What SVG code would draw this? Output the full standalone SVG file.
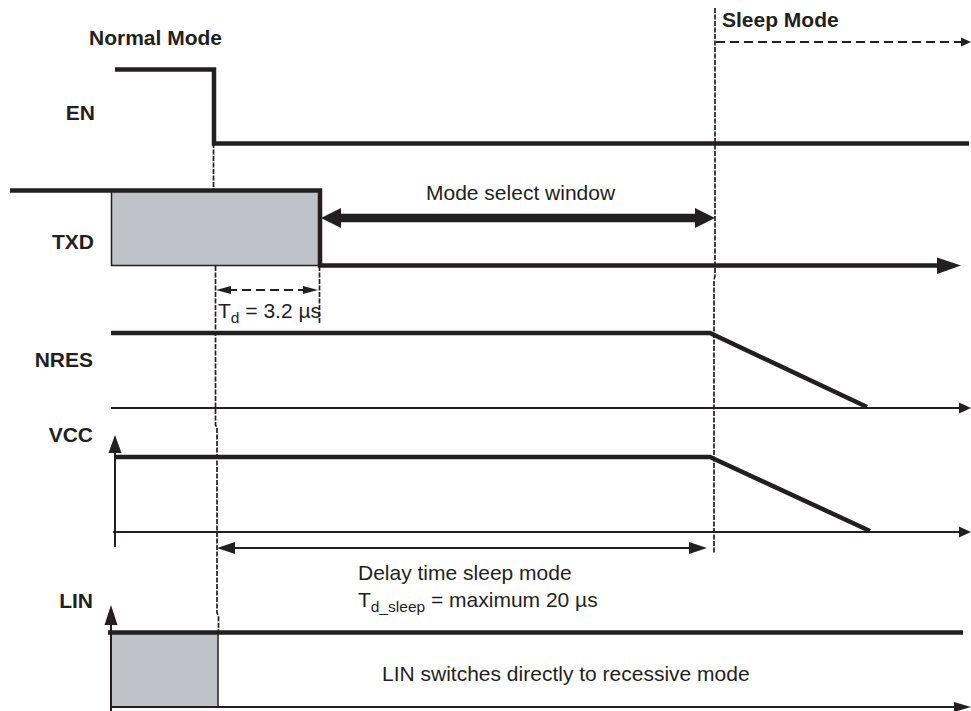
<svg xmlns="http://www.w3.org/2000/svg" width="971" height="711" viewBox="0 0 971 711">
<style>
  .bg{fill:#ffffff}
  .sig{fill:none;stroke:#231f20;stroke-width:4.5;stroke-linejoin:miter;stroke-linecap:butt}
  .thin{fill:none;stroke:#231f20;stroke-width:2}
  .head{fill:#231f20;stroke:none}
  .shade{fill:#c0c2c9;stroke:#231f20;stroke-width:1.5}
  .guide{fill:none;stroke:#231f20;stroke-width:1.7;stroke-dasharray:5 1.5}
  .dash{fill:none;stroke:#231f20;stroke-width:2;stroke-dasharray:9 5}
  .lbl{font-family:"Liberation Sans",Arial,sans-serif;font-weight:bold;font-size:21px;fill:#231f20}
  .txt{font-family:"Liberation Sans",Arial,sans-serif;font-size:21px;fill:#231f20}
  .sub{font-size:15.5px}
</style>
<rect class="bg" x="0" y="0" width="971" height="711"/>

<g id="mode-labels">
  <text class="lbl" x="89" y="45">Normal Mode</text>
  <text class="lbl" x="722" y="27">Sleep Mode</text>
</g>

<g id="guides">
  <path class="guide" d="M213.5,143 V238 L215.5,241 V425 L217,428 V613 L218.5,616 V632"/>
  <path class="guide" d="M715,8 V276 L714,280 V553"/>
  <path class="guide" d="M319.5,266 V323"/>
</g>

<g id="en">
  <text class="lbl" x="95" y="120" text-anchor="end">EN</text>
  <polyline class="sig" points="115,69.5 214,69.5 214,143.5 969,143.5"/>
</g>

<g id="txd">
  <text class="lbl" x="94" y="249" text-anchor="end">TXD</text>
  <rect class="shade" x="111.5" y="190.5" width="208.5" height="75"/>
  <polyline class="sig" points="10,190.5 320,190.5 320,265.5 940,265.5"/>
  <polygon class="head" points="937,257.5 961,265.5 937,274"/>
</g>

<g id="nres">
  <text class="lbl" x="93" y="367" text-anchor="end">NRES</text>
  <polyline class="sig" points="111,333 710,333 867,407"/>
  <line class="thin" x1="111" y1="408" x2="962" y2="408"/>
  <polygon class="head" points="959,402.5 971,408 959,413.5"/>
</g>

<g id="vcc">
  <text class="lbl" x="93" y="442" text-anchor="end">VCC</text>
  <line class="thin" x1="115" y1="547" x2="115" y2="450"/>
  <polygon class="head" points="108.5,453 115,435 121.5,453"/>
  <polyline class="sig" points="115,457 710,457 870,531"/>
  <line class="thin" x1="113" y1="532" x2="962" y2="532"/>
  <polygon class="head" points="959,526.5 971,532 959,537.5"/>
</g>

<g id="lin">
  <text class="lbl" x="93" y="608" text-anchor="end">LIN</text>
  <rect class="shade" x="111" y="632.5" width="107" height="74.5"/>
  <line class="thin" x1="111" y1="711" x2="111" y2="620"/>
  <polygon class="head" points="104.5,625 111,605 117.5,625"/>
  <line class="sig" x1="108" y1="632.5" x2="963" y2="632.5"/>
  <line class="thin" x1="111" y1="707" x2="958" y2="707"/>
  <polygon class="head" points="954,702 971,707 954,712"/>
</g>

<g id="connectors">
  <line x1="336" y1="218" x2="700" y2="218" stroke="#231f20" stroke-width="8.5"/>
  <polygon class="head" points="321,218 341,208 341,228"/>
  <polygon class="head" points="715,218 695,208 695,228"/>
  <line class="dash" x1="228" y1="290" x2="306" y2="290" stroke-dasharray="9 5"/>
  <polygon class="head" points="216,290 231,286 231,294"/>
  <polygon class="head" points="318,290 303,286 303,294"/>
  <line class="thin" x1="230" y1="548" x2="694" y2="548"/>
  <polygon class="head" points="217,548 235,542 235,554"/>
  <polygon class="head" points="707,548 689,542 689,554"/>
  <line class="dash" x1="716" y1="42" x2="962" y2="42"/>
  <polygon class="head" points="961,37.5 971,42 961,46.5"/>
</g>

<g id="annotations">
  <text class="txt" x="426" y="200">Mode select window</text>
  <text class="txt" x="218" y="318">T<tspan class="sub" dy="5">d</tspan><tspan dy="-5"> = 3.2 µs</tspan></text>
  <text class="txt" x="358" y="580">Delay time sleep mode</text>
  <text class="txt" x="358" y="607">T<tspan class="sub" dy="5">d_sleep</tspan><tspan dy="-5"> = maximum 20 µs</tspan></text>
  <text class="txt" x="382" y="681">LIN switches directly to recessive mode</text>
</g>
</svg>
